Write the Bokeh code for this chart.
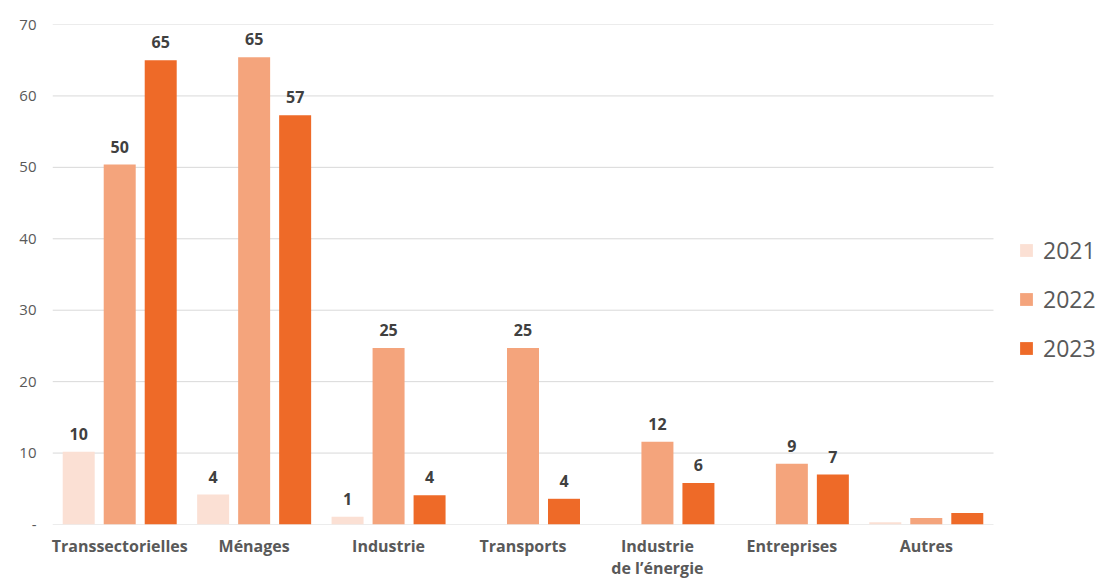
from bokeh.plotting import figure
from bokeh.models import ColumnDataSource, FixedTicker, Legend, LegendItem
from bokeh.transform import dodge
from bokeh.core.properties import value
from bokeh.embed import file_html
from bokeh.resources import INLINE

categories = ["Transsectorielles", "Ménages", "Industrie", "Transports",
              "Industrie\nde l’énergie", "Entreprises", "Autres"]
v2021 = [10.2, 4.2, 1.1, 0.0, 0.0, 0.0, 0.3]
v2022 = [50.4, 65.4, 24.7, 24.7, 11.6, 8.5, 0.9]
v2023 = [65.0, 57.3, 4.1, 3.6, 5.8, 7.0, 1.6]
l2021 = ["10", "4", "1", "", "", "", ""]
l2022 = ["50", "65", "25", "25", "12", "9", ""]
l2023 = ["65", "57", "4", "4", "6", "7", ""]
years = ["2021", "2022", "2023"]
colors = ["#FBE0D4", "#F4A47C", "#EE6A28"]
y_ticks = [0, 10, 20, 30, 40, 50, 60, 70]

FONT = "Open Sans"

xs = list(range(len(categories)))
source = ColumnDataSource(dict(x=xs, v2021=v2021, v2022=v2022, v2023=v2023,
                               l2021=l2021, l2022=l2022, l2023=l2023))

PX_PER_CAT = 941 / len(categories)
FRAME_W = 1052
x_end = -0.5 + FRAME_W / PX_PER_CAT

p = figure(x_range=(-0.5, x_end), y_range=(0, 70), width=1104, height=581,
           output_backend="svg", toolbar_location=None,
           min_border_left=52, min_border_right=0, min_border_top=24, min_border_bottom=57)
p.outline_line_color = None
p.background_fill_color = "white"
p.border_fill_color = "white"

# horizontal grid lines limited to the category area
p.segment(x0=[-0.5] * len(y_ticks), x1=[len(categories) - 0.5] * len(y_ticks),
          y0=y_ticks, y1=y_ticks, line_color="#D9D9D9", line_width=1)

offsets = [-0.305, 0.0, 0.305]
cols = ["v2021", "v2022", "v2023"]
lcols = ["l2021", "l2022", "l2023"]
renderers = []
for off, c, lc, col in zip(offsets, cols, lcols, colors):
    r = p.vbar(x=dodge("x", off), top=c, width=0.238,
               source=source, fill_color=col, line_color=None)
    renderers.append(r)
    p.text(x=dodge("x", off), y=c, text=lc, source=source,
           text_align="center", text_baseline="bottom", y_offset=-12,
           text_font=value(FONT), text_font_style="bold", text_font_size="16px",
           text_color="#404040")

legend = Legend(items=[LegendItem(label=y, renderers=[r]) for y, r in zip(years, renderers)],
                location=(966, 160), orientation="vertical",
                glyph_width=16, glyph_height=16, label_height=16, spacing=17,
                label_standoff=9, padding=0, margin=0,
                border_line_color=None, background_fill_alpha=0,
                label_text_font=FONT, label_text_font_size="23px", label_text_color="#595959")
p.add_layout(legend, "center")

p.yaxis.ticker = FixedTicker(ticks=y_ticks)
p.yaxis.major_label_overrides = {0: "-"}
p.yaxis.axis_line_color = None
p.yaxis.major_tick_line_color = None
p.yaxis.major_tick_out = 0
p.yaxis.minor_tick_line_color = None
p.yaxis.major_label_standoff = 16
p.yaxis.major_label_text_font = FONT
p.yaxis.major_label_text_font_size = "15px"
p.yaxis.major_label_text_color = "#595959"

p.xaxis.ticker = FixedTicker(ticks=xs)
p.xaxis.major_label_overrides = {i: c for i, c in zip(xs, categories)}
p.xaxis.axis_line_color = None
p.xaxis.major_tick_line_color = None
p.xaxis.major_tick_out = 0
p.xaxis.minor_tick_line_color = None
p.xaxis.major_label_standoff = 10
p.xaxis.major_label_text_font = FONT
p.xaxis.major_label_text_font_style = "bold"
p.xaxis.major_label_text_font_size = "16px"
p.xaxis.major_label_text_line_height = 1.0
p.xaxis.major_label_text_color = "#595959"

p.xgrid.grid_line_color = None
p.ygrid.grid_line_color = None

open("out.html", "w").write(file_html(p, INLINE))
